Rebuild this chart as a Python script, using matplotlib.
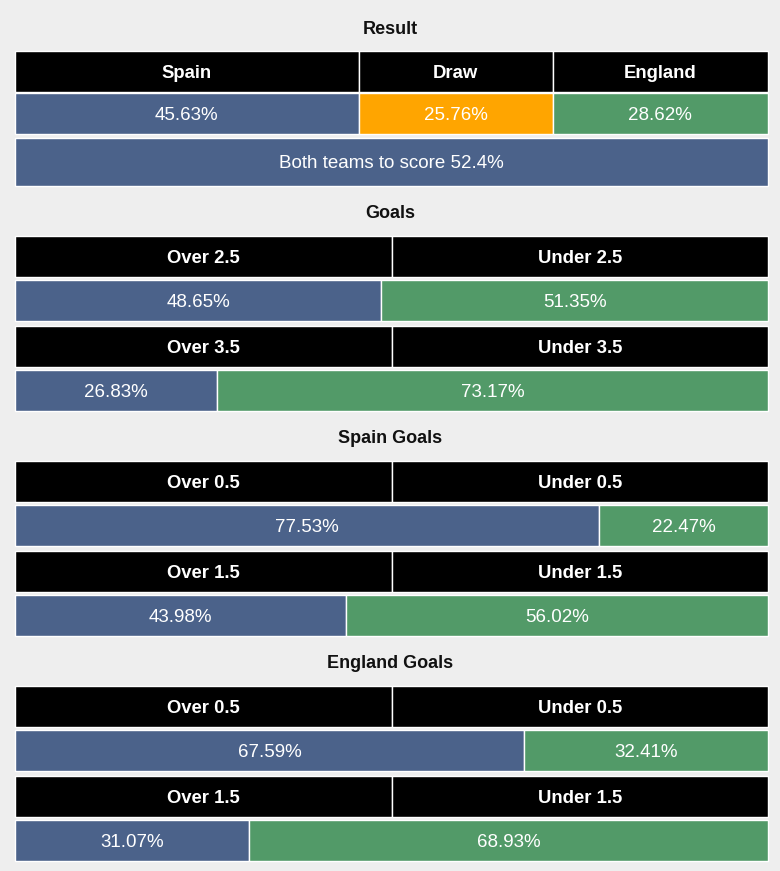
import matplotlib
matplotlib.use("Agg")
import matplotlib.pyplot as plt

plt.rcParams['font.family'] = ['Liberation Sans', 'DejaVu Sans']

# data
result_labels = ["Spain", "Draw", "England"]
result_probs = [45.63, 25.76, 28.62]
btts_prob = 52.4

section_titles = ["Goals", "Spain Goals", "England Goals"]
lines = ["2.5", "3.5", "0.5", "1.5", "0.5", "1.5"]
over_probs = [48.65, 26.83, 77.53, 43.98, 67.59, 31.07]
under_probs = [51.35, 73.17, 22.47, 56.02, 32.41, 68.93]

BG = "#eeeeee"
BLUE = "#4b628a"
GREEN = "#529a68"
ORANGE = "#ffa500"
HEAD = "#000000"

W, H = 780, 871
X0, X1 = 15, 768
SPAN = X1 - X0

fig = plt.figure(figsize=(W / 100, H / 100), dpi=100, facecolor=BG)
ax = fig.add_axes([0, 0, 1, 1])
ax.set_xlim(0, W)
ax.set_ylim(H, 0)
ax.axis("off")
ax.set_facecolor(BG)


def title(y, text):
    ax.text(W / 2, y + 2, text, ha="center", va="center", fontsize=13,
            fontweight="bold", color="#111111")


def row(top, h, probs, colors, texts, bold=False):
    lefts = []
    acc = 0
    for p in probs:
        lefts.append(X0 + SPAN * acc / 100)
        acc += p
    widths = [SPAN * p / 100 for p in probs]
    ax.barh([top + h / 2] * len(probs), widths, left=lefts, height=h,
            color=colors, edgecolor="white", linewidth=1.0)
    for l, w, t in zip(lefts, widths, texts):
        ax.text(l + w / 2, top + h / 2 + 1.5, t, ha="center", va="center",
                color="white", fontsize=13.3 if bold else 13.5,
                fontweight="bold" if bold else "normal")


# Result section
title(28, "Result")
row(51, 41, result_probs, [HEAD] * 3, result_labels, bold=True)
row(93, 41, result_probs, [BLUE, ORANGE, GREEN],
    ["%.2f%%" % p for p in result_probs])
row(138, 48, [100], [BLUE], ["Both teams to score %s%%" % btts_prob])

# Goals sections
top = 211
for s, name in enumerate(section_titles):
    title(top, name)
    y = top + 25
    for k in range(2):
        i = 2 * s + k
        pair = [over_probs[i], under_probs[i]]
        row(y, 41, [50, 50], [HEAD, HEAD],
            ["Over " + lines[i], "Under " + lines[i]], bold=True)
        row(y + 44, 41, pair, [BLUE, GREEN], ["%.2f%%" % p for p in pair])
        y += 90
    top += 225

fig.savefig("out.png", dpi=100, facecolor=BG)
